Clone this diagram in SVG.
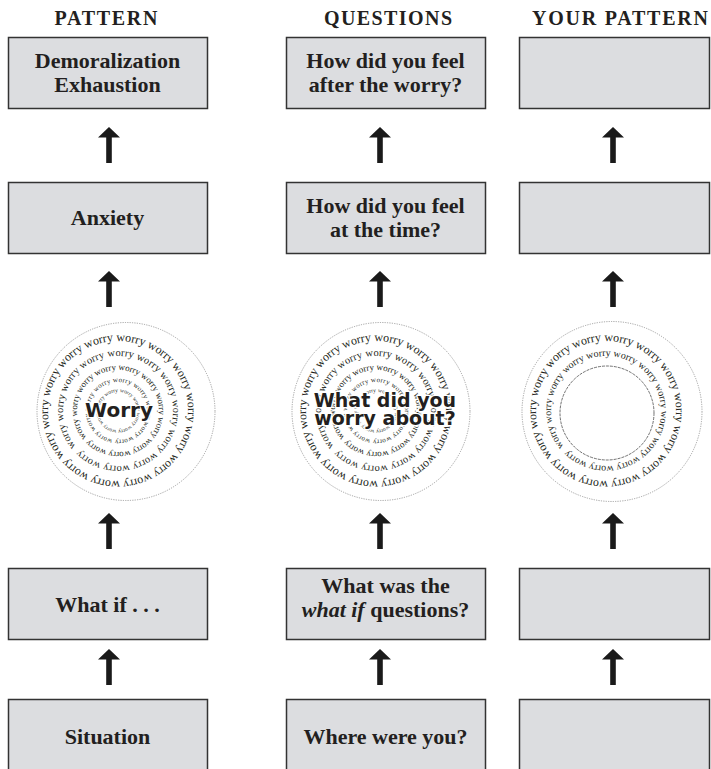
<svg xmlns="http://www.w3.org/2000/svg" width="711" height="769" viewBox="0 0 711 769">
<style>
.hdr{font-family:"Liberation Serif",serif;font-weight:bold;font-size:20px;fill:#231f20;text-anchor:middle}
.box{fill:#dcdde0;stroke:#333;stroke-width:1.5}
.lbl{font-family:"Liberation Serif",serif;font-weight:bold;font-size:22px;fill:#231f20;text-anchor:middle}
.ring{fill:#fff;stroke:#8a8a8a;stroke-width:0.8;stroke-dasharray:1.2 1.2}
.w{font-family:"Liberation Serif",serif;fill:#231f20}
.big{font-family:"DejaVu Sans",sans-serif;font-weight:bold;fill:#231f20;text-anchor:middle;stroke:#fff;stroke-width:2.5;paint-order:stroke;stroke-linejoin:round}
.arrow{fill:#1a1a1a}
.spiral{fill:none;stroke:#333;stroke-width:0.7;stroke-dasharray:3 1}
</style>
<defs>
<path id="r70" d="M-70 0A70 70 0 1 1 70 0A70 70 0 1 1 -70 0"/>
<path id="r55" d="M-55 0A55 55 0 1 1 55 0A55 55 0 1 1 -55 0"/>
<path id="r41" d="M-41 0A41 41 0 1 1 41 0A41 41 0 1 1 -41 0"/>
<path id="r29" d="M-29 0A29 29 0 1 1 29 0A29 29 0 1 1 -29 0"/>
<path id="r19" d="M-19 0A19 19 0 1 1 19 0A19 19 0 1 1 -19 0"/>
<path id="arr" d="M0 0L11 10.5H2.8V36H-2.8V10.5H-11Z"/>
</defs>

<g id="headers">
<text class="hdr" x="106" y="25" textLength="103" lengthAdjust="spacing">PATTERN</text>
<text class="hdr" x="388" y="25" textLength="128" lengthAdjust="spacing">QUESTIONS</text>
<text class="hdr" x="620" y="25" textLength="176" lengthAdjust="spacing">YOUR PATTERN</text>
</g>

<g id="connectors" class="arrow">
<use href="#arr" x="109" y="127"/>
<use href="#arr" x="109" y="271"/>
<use href="#arr" x="109" y="513"/>
<use href="#arr" x="109" y="649"/>
<use href="#arr" x="380" y="127"/>
<use href="#arr" x="380" y="271"/>
<use href="#arr" x="380" y="513"/>
<use href="#arr" x="380" y="649"/>
<use href="#arr" x="613" y="127"/>
<use href="#arr" x="613" y="271"/>
<use href="#arr" x="613" y="513"/>
<use href="#arr" x="613" y="649"/>
</g>

<g id="p-demoralization">
<rect class="box" x="8.5" y="37.5" width="199" height="71"/>
<text class="lbl" x="107.5" y="68">Demoralization</text>
<text class="lbl" x="107.5" y="92">Exhaustion</text>
</g>
<g id="p-anxiety">
<rect class="box" x="8.5" y="182.5" width="199" height="71"/>
<text class="lbl" x="107.5" y="225">Anxiety</text>
</g>
<g id="p-worry">
<circle class="ring" cx="126" cy="411.5" r="89"/>
<g transform="translate(118 411) rotate(-40)">
<text class="w" font-size="12"><textPath href="#r70" textLength="436" lengthAdjust="spacing">worry worry worry worry worry worry worry worry worry worry worry worry worry worry</textPath></text>
<text class="w" font-size="10.5"><textPath href="#r55" textLength="340" lengthAdjust="spacing">worry worry worry worry worry worry worry worry worry worry worry worry</textPath></text>
<text class="w" font-size="9"><textPath href="#r41" textLength="254" lengthAdjust="spacing">worry worry worry worry worry worry worry worry worry worry worry</textPath></text>
<text class="w" font-size="7"><textPath href="#r29" textLength="180" lengthAdjust="spacing">worry worry worry worry worry worry worry worry worry</textPath></text>
<text class="w" font-size="5.5"><textPath href="#r19" textLength="117" lengthAdjust="spacing">worry worry worry worry worry worry worry worry</textPath></text>
</g>
<text class="big" x="119" y="417" font-size="20">Worry</text>
</g>
<g id="p-whatif">
<rect class="box" x="8.5" y="568.5" width="199" height="71"/>
<text class="lbl" x="107.5" y="612">What if . . .</text>
</g>
<g id="p-situation">
<rect class="box" x="8.5" y="699.5" width="199" height="90"/>
<text class="lbl" x="107.5" y="744">Situation</text>
</g>

<g id="q-after">
<rect class="box" x="286.5" y="37.5" width="199" height="71"/>
<text class="lbl" x="385.5" y="68">How did you feel</text>
<text class="lbl" x="385.5" y="92">after the worry?</text>
</g>
<g id="q-time">
<rect class="box" x="286.5" y="182.5" width="199" height="71"/>
<text class="lbl" x="385.5" y="213">How did you feel</text>
<text class="lbl" x="385.5" y="237">at the time?</text>
</g>
<g id="q-worry">
<circle class="ring" cx="381" cy="411.5" r="89"/>
<g transform="translate(376 411) rotate(-40)">
<text class="w" font-size="12"><textPath href="#r70" textLength="436" lengthAdjust="spacing">worry worry worry worry worry worry worry worry worry worry worry worry worry worry</textPath></text>
<text class="w" font-size="10.5"><textPath href="#r55" textLength="340" lengthAdjust="spacing">worry worry worry worry worry worry worry worry worry worry worry worry</textPath></text>
<text class="w" font-size="9"><textPath href="#r41" textLength="254" lengthAdjust="spacing">worry worry worry worry worry worry worry worry worry worry worry</textPath></text>
<text class="w" font-size="7"><textPath href="#r29" textLength="180" lengthAdjust="spacing">worry worry worry worry worry worry worry worry worry</textPath></text>
<text class="w" font-size="5.5"><textPath href="#r19" textLength="117" lengthAdjust="spacing">worry worry worry worry worry worry worry worry</textPath></text>
</g>
<text class="big" x="385" y="407" font-size="19">What did you</text>
<text class="big" x="385" y="425" font-size="19">worry about?</text>
</g>
<g id="q-whatif">
<rect class="box" x="286.5" y="568.5" width="199" height="71"/>
<text class="lbl" x="385.5" y="593">What was the</text>
<text class="lbl" x="385.5" y="617"><tspan font-style="italic">what if</tspan> questions?</text>
</g>
<g id="q-where">
<rect class="box" x="286.5" y="699.5" width="199" height="90"/>
<text class="lbl" x="385.5" y="744">Where were you?</text>
</g>

<g id="y-box1"><rect class="box" x="519.5" y="37.5" width="190" height="71"/></g>
<g id="y-box2"><rect class="box" x="519.5" y="182.5" width="190" height="71"/></g>
<g id="y-worry">
<circle class="ring" cx="612" cy="411.5" r="90"/>
<g transform="translate(606 411) rotate(-40)">
<text class="w" font-size="12"><textPath href="#r70" textLength="436" lengthAdjust="spacing">worry worry worry worry worry worry worry worry worry worry worry worry worry worry</textPath></text>
<text class="w" font-size="10"><textPath href="#r55" textLength="340" lengthAdjust="spacing">worry worry worry worry worry worry worry worry worry worry worry worry worry</textPath></text>
</g>
<circle class="spiral" cx="607" cy="413" r="47"/>
</g>
<g id="y-box3"><rect class="box" x="519.5" y="568.5" width="190" height="71"/></g>
<g id="y-box4"><rect class="box" x="519.5" y="699.5" width="190" height="90"/></g>
</svg>
